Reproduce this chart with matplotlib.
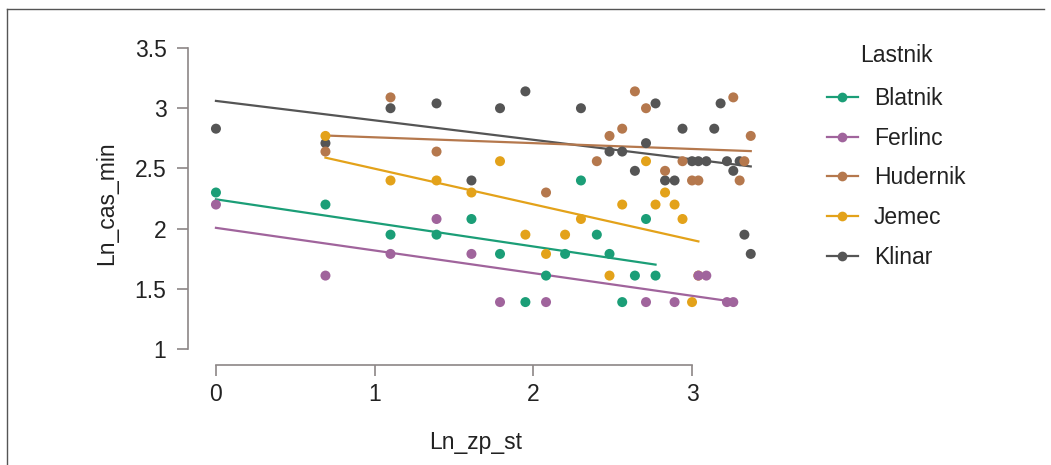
"""Ln_cas_min vs Ln_zp_st po lastnikih — razsevni diagram z regresijskimi premicami."""

import matplotlib

matplotlib.use("Agg")
import matplotlib.pyplot as plt  # noqa: E402
import numpy as np  # noqa: E402
from matplotlib.lines import Line2D  # noqa: E402

plt.rcParams["font.family"] = ["Liberation Sans", "DejaVu Sans"]

LASTNIKI = ["Blatnik", "Ferlinc", "Hudernik", "Jemec", "Klinar"]
BARVE = ["#1b9e77", "#a0649c", "#b5784d", "#e3a21a", "#555555"]

# Vrednosti odčitane s slike (ln števil)
blatnik_x = [0.00, 0.69, 1.10, 1.39, 1.61, 1.79, 1.95, 2.08, 2.20, 2.30, 2.40, 2.48, 2.56, 2.64, 2.71, 2.77]
blatnik_y = [2.30, 2.20, 1.95, 1.95, 2.08, 1.79, 1.39, 1.61, 1.79, 2.40, 1.95, 1.79, 1.39, 1.61, 2.08, 1.61]

ferlinc_x = [0.00, 0.69, 1.10, 1.39, 1.61, 1.79, 2.08, 2.71, 2.89, 3.04, 3.09, 3.22, 3.26]
ferlinc_y = [2.20, 1.61, 1.79, 2.08, 1.79, 1.39, 1.39, 1.39, 1.39, 1.61, 1.61, 1.39, 1.39]

hudernik_x = [0.69, 1.10, 1.39, 2.08, 2.40, 2.48, 2.56, 2.64, 2.71, 2.83, 2.94, 3.00, 3.04, 3.26, 3.30, 3.33, 3.37]
hudernik_y = [2.64, 3.09, 2.64, 2.30, 2.56, 2.77, 2.83, 3.14, 3.00, 2.48, 2.56, 2.40, 2.40, 3.09, 2.40, 2.56, 2.77]

# zadnja točka (3.04, 1.61) je na sliki skrita pod točko Ferlinc
jemec_x = [0.69, 1.10, 1.39, 1.61, 1.79, 1.95, 2.08, 2.20, 2.30, 2.48, 2.56, 2.71, 2.77, 2.83, 2.89, 2.94, 3.00, 3.04]
jemec_y = [2.77, 2.40, 2.40, 2.30, 2.56, 1.95, 1.79, 1.95, 2.08, 1.61, 2.20, 2.56, 2.20, 2.30, 2.20, 2.08, 1.39, 1.61]

klinar_x = [0.00, 0.69, 1.10, 1.39, 1.61, 1.79, 1.95, 2.30, 2.48, 2.56, 2.64, 2.71, 2.77, 2.83, 2.89,
            2.94, 3.00, 3.04, 3.09, 3.14, 3.18, 3.22, 3.26, 3.30, 3.33, 3.37]
klinar_y = [2.83, 2.71, 3.00, 3.04, 2.40, 3.00, 3.14, 3.00, 2.64, 2.64, 2.48, 2.71, 3.04, 2.40, 2.40,
            2.83, 2.56, 2.56, 2.56, 2.83, 3.04, 2.56, 2.48, 2.56, 1.95, 1.79]

PODATKI = [
    (blatnik_x, blatnik_y),
    (ferlinc_x, ferlinc_y),
    (hudernik_x, hudernik_y),
    (jemec_x, jemec_y),
    (klinar_x, klinar_y),
]

X_TICKS = [0, 1, 2, 3]
Y_TICKS = [1, 1.5, 2, 2.5, 3, 3.5]
Y_TICK_LABELS = ["1", "1.5", "2", "2.5", "3", "3.5"]

FS = 16.5
OS = "#8c8686"
TXT = "#222222"

fig = plt.figure(figsize=(10.51, 4.65), dpi=100)
ax = fig.add_axes([0.1789, 0.2157, 0.5475, 0.694])

# Klinar najprej, Blatnik zadnji (tako se prekrivajo na sliki)
for i in reversed(range(len(PODATKI))):
    x = np.asarray(PODATKI[i][0])
    y = np.asarray(PODATKI[i][1])
    barva = BARVE[i]
    k, n = np.polyfit(x, y, 1)
    xs = np.array([x.min(), x.max()])
    ax.plot(xs, k * xs + n, color=barva, lw=1.6, zorder=2)
    ax.scatter(x, y, s=52, color=barva, edgecolors="none", zorder=3)

ax.set_xlim(-0.176, 3.45)
ax.set_ylim(0.87, 3.55)
ax.set_xticks(X_TICKS)
ax.set_yticks(Y_TICKS)
ax.set_yticklabels(Y_TICK_LABELS)

for s in ["top", "right"]:
    ax.spines[s].set_visible(False)
ax.spines["left"].set_bounds(1, 3.5)
ax.spines["bottom"].set_bounds(0, 3)
for s in ["left", "bottom"]:
    ax.spines[s].set_color(OS)
    ax.spines[s].set_linewidth(1.2)
ax.tick_params(axis="both", colors=OS, labelcolor=TXT, labelsize=FS, length=8, width=1.2)
ax.tick_params(axis="y", pad=7.5)
ax.tick_params(axis="x", pad=5)

ax.set_xlabel("Ln_zp_st", fontsize=FS, color=TXT, labelpad=18)
ax.set_ylabel("Ln_cas_min", fontsize=FS, color=TXT, labelpad=12)

# legenda: naslov posebej, da je razmik do prvega vnosa kot na sliki
fig.text(0.8525, 1 - 55 / 465, "Lastnik", fontsize=FS, color=TXT,
         ha="center", va="center")
rocaji = [Line2D([0], [0], color=b, lw=1.6, marker="o", markersize=7, markeredgewidth=0)
          for b in BARVE]
leg = fig.legend(rocaji, LASTNIKI, loc="upper left",
                 bbox_to_anchor=(0.7866, 1 - 87 / 465), frameon=False, fontsize=FS,
                 handlelength=1.35, handletextpad=0.7,
                 labelspacing=0.73, borderaxespad=0, borderpad=0)
for t in leg.get_texts():
    t.set_color(TXT)

# tanek okvir (zgoraj in levo)
fig.add_artist(Line2D([0.0067, 0.993], [0.981, 0.981], transform=fig.transFigure,
                      color="#555555", lw=1.0))
fig.add_artist(Line2D([0.0067, 0.0067], [0.0, 0.981], transform=fig.transFigure,
                      color="#555555", lw=1.0))

fig.savefig("out.png", dpi=100)
